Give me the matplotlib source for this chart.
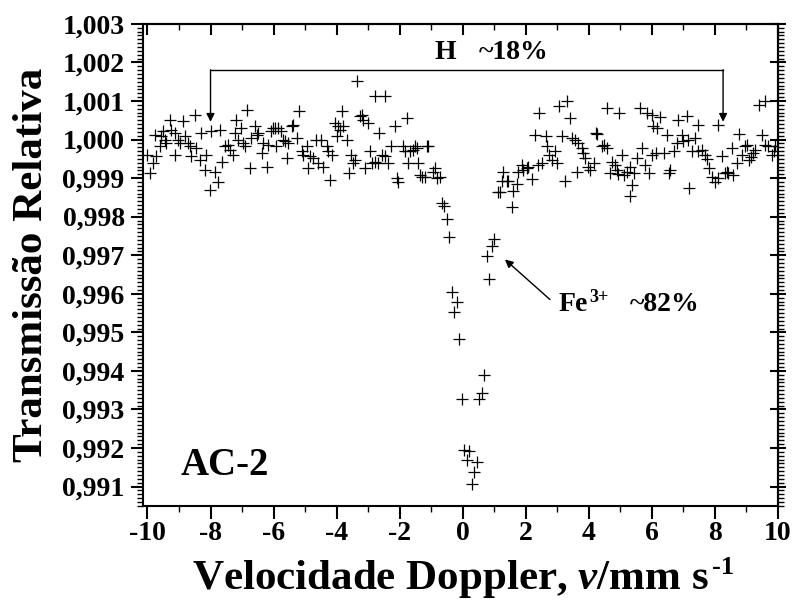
import matplotlib
matplotlib.use("Agg")
import matplotlib.pyplot as plt
from matplotlib.ticker import MultipleLocator, FuncFormatter

plt.rcParams['font.family'] = ['Liberation Serif', 'DejaVu Serif']
plt.rcParams['font.weight'] = 'bold'
plt.rcParams['mathtext.fontset'] = 'custom'
plt.rcParams['mathtext.rm'] = 'Liberation Serif:bold'
plt.rcParams['mathtext.bf'] = 'Liberation Serif:bold'
plt.rcParams['mathtext.it'] = 'Liberation Serif:bold:italic'
plt.rcParams['mathtext.bfit'] = 'Liberation Serif:bold:italic'
plt.rcParams['mathtext.default'] = 'bf'

# ---- data: Doppler velocity (mm/s) and relative transmission ----
velocity = [
    -10.03, -9.93, -9.82, -9.77, -9.72, -9.61, -9.56, -9.50, -9.45, -9.40,
    -9.29, -9.24, -9.13, -9.13, -9.03, -8.97, -8.87, -8.82, -8.71, -8.66,
    -8.61, -8.50, -8.45, -8.34, -8.29, -8.18, -8.13, -8.02, -7.97, -7.86,
    -7.76, -7.71, -7.65, -7.55, -7.44, -7.39, -7.28, -7.23, -7.18, -7.12,
    -7.02, -6.96, -6.91, -6.84, -6.75, -6.70, -6.60, -6.54, -6.49, -6.38,
    -6.33, -6.22, -6.17, -6.07, -6.01, -5.96, -5.91, -5.85, -5.75, -5.70,
    -5.64, -5.57, -5.54, -5.43, -5.38, -5.27, -5.19, -5.11, -5.06, -4.95,
    -4.90, -4.85, -4.74, -4.64, -4.58, -4.48, -4.43, -4.32, -4.27, -4.21,
    -4.16, -4.06, -4.00, -3.95, -3.90, -3.84, -3.79, -3.68, -3.60, -3.53,
    -3.47, -3.42, -3.35, -3.26, -3.21, -3.16, -3.10, -3.00, -2.94, -2.89,
    -2.79, -2.79, -2.68, -2.65, -2.57, -2.47, -2.47, -2.36, -2.26, -2.15,
    -2.10, -2.05, -1.89, -1.83, -1.78, -1.73, -1.67, -1.59, -1.52, -1.46,
    -1.41, -1.36, -1.30, -1.20, -1.14, -1.09, -0.93, -0.88, -0.83, -0.72,
    -0.668, -0.594, -0.510, -0.425, -0.351, -0.266, -0.171, -0.107, -0.033, 0.051,
    0.125, 0.210, 0.284, 0.369, 0.443, 0.527, 0.623, 0.686, 0.760, 0.845,
    0.919, 1.004,
    1.13, 1.18, 1.553, 1.289, 1.236, 1.394, 1.447, 1.606, 1.712, 1.765,
    1.87, 1.92, 2.03, 2.08, 2.19, 2.29, 2.43, 2.40, 2.51, 2.64,
    2.69, 2.75, 2.82, 2.93, 2.98, 3.04, 3.30, 3.41, 3.14, 3.25,
    3.46, 3.56, 3.67, 3.62, 3.78, 3.83, 3.88, 3.99, 4.04, 4.15,
    4.23, 4.27, 4.41, 4.48, 4.57, 4.57, 4.97, 4.73, 4.83, 4.68,
    4.89, 4.94, 5.05, 5.12, 5.20, 5.31, 5.36, 5.31, 5.42, 5.52,
    5.63, 5.84, 6.00, 5.68, 5.79, 5.92, 6.05, 6.16, 6.00, 6.14,
    6.26, 6.47, 6.37, 6.53, 6.58, 6.69, 6.79, 6.84, 6.95, 7.00,
    7.13, 7.16, 7.19, 7.27, 7.37, 7.45, 7.48, 7.59, 7.69, 7.74,
    7.80, 7.90, 8.01, 8.11, 8.11, 8.22, 8.33, 8.38, 8.43, 8.54,
    8.59, 8.70, 8.78, 8.85, 8.96, 9.03, 9.07, 9.14, 9.22, 9.28,
    9.40, 9.49, 9.60, 9.60, 9.70, 9.81, 9.86, 9.91,
]
transmission = [
    0.99961, 0.99913, 0.99939, 1.00012, 0.99956, 0.99982, 1.00008, 1.00021, 0.99999, 0.99991,
    1.00051, 1.00025, 1.00017, 0.99961, 0.99999, 0.99991, 1.00047, 1.00008, 0.99991, 0.99982,
    0.99956, 1.00064, 0.99978, 0.99948, 1.00017, 0.99922, 0.99961, 0.99870, 1.00021, 0.99917,
    0.99889, 1.00025, 0.99943, 0.99982, 0.99987, 0.99974, 0.99961, 1.00017, 1.00051, 0.99999,
    1.00030, 0.99991, 0.99982, 1.00077, 0.99926, 1.00004, 1.00034, 1.00012, 1.00017, 0.99965,
    0.99991, 0.99930, 0.99987, 1.00021, 1.00030, 1.00030, 0.99982, 1.00030, 1.00021, 0.99999,
    0.99995, 0.99952, 0.99991, 1.00034, 1.00038, 1.00004, 1.00075, 0.99969, 0.99961, 0.99982,
    0.99926, 0.99956, 0.99952, 0.99999, 0.99939, 0.99999, 0.99930, 0.99982, 0.99969, 0.99896,
    0.99961, 1.00043, 1.00008, 1.00034, 1.00025, 1.00075, 1.00034, 0.99999, 0.99913, 0.99961,
    0.99939, 0.99948, 1.00152, 1.00060, 1.00064, 1.00051, 0.99926, 1.00043, 0.99969, 0.99939,
    0.99941, 1.00112, 0.99939, 1.00017, 0.99961, 1.00113, 0.99956, 0.99939, 0.99982, 1.00034,
    0.99900, 0.99891, 0.99982, 0.99969, 1.00056, 0.99939, 0.99969, 0.99974, 0.99982, 0.99978,
    0.99939, 0.99909, 0.99904, 0.99904, 0.99982, 0.99982, 0.99917, 0.99926, 0.99900, 0.99904,
    0.998355, 0.998285, 0.99795, 0.997474, 0.99605, 0.99552, 0.99579, 0.99483, 0.99328, 0.99196,
    0.99168, 0.99192, 0.99106, 0.99139, 0.99164, 0.99328, 0.99343, 0.99389, 0.99697, 0.99639,
    0.99725, 0.99742,
    0.99863, 0.99863, 0.99825, 0.99917, 0.99892, 0.99892, 0.99892, 0.99866, 0.99885, 0.99917,
    0.99934, 0.99922, 0.99926, 0.99930, 0.99898, 1.00012, 1.00069, 0.99934, 0.99939, 1.00009,
    0.99982, 0.99961, 0.99948, 0.99969, 0.99939, 1.00086, 1.00099, 1.00056, 1.00008, 0.99892,
    1.00004, 1.00000, 0.99991, 0.99915, 0.99978, 0.99965, 0.99952, 0.99930, 0.99922, 0.99939,
    1.00018, 1.00015, 0.99982, 0.99987, 0.99978, 1.00081, 1.00070, 0.99943, 0.99934, 0.99913,
    0.99920, 0.99911, 0.99961, 0.99909, 0.99917, 0.99930, 0.99883, 0.99853, 0.99913, 0.99952,
    1.00081, 1.00068, 1.00064, 0.99978, 0.99934, 0.99913, 1.00034, 1.00030, 0.99961, 0.99965,
    1.00058, 1.00012, 0.99965, 0.99913, 0.99922, 0.99969, 0.99991, 1.00051, 1.00012, 0.99995,
    1.00060, 0.99999, 0.99874, 0.99969, 1.00004, 0.99969, 1.00038, 0.99974, 0.99961, 0.99950,
    0.99926, 0.99904, 0.99891, 1.00038, 0.99900, 0.99956, 0.99913, 0.99917, 0.99913, 0.99978,
    0.99909, 0.99939, 1.00014, 0.99961, 0.99982, 0.99987, 0.99948, 0.99954, 0.99965, 0.99974,
    1.00090, 1.00012, 1.00099, 0.99987, 0.99982, 0.99961, 0.99970, 0.99982,
]

x_ticks = [-10, -8, -6, -4, -2, 0, 2, 4, 6, 8, 10]
y_ticks = [0.991, 0.992, 0.993, 0.994, 0.995, 0.996, 0.997, 0.998, 0.999, 1.000, 1.001, 1.002, 1.003]

sample_label = "AC-2"
doublet_pct = "~82%"

fig = plt.figure(figsize=(7.93, 6.11), dpi=100)
ax = fig.add_axes([0.180, 0.172, 0.801, 0.789])

ax.plot(velocity, transmission, linestyle='none', marker='+', color='black',
        markersize=8, markeredgewidth=0.9)

ax.set_xlim(-10.15, 10.0)
ax.set_ylim(0.9905, 1.003)
ax.set_xticks(x_ticks)
ax.set_yticks(y_ticks)
ax.xaxis.set_minor_locator(MultipleLocator(1))
ax.yaxis.set_minor_locator(MultipleLocator(0.0001))
ax.yaxis.set_major_formatter(FuncFormatter(lambda v, p: f"{v:.3f}".replace('.', ',')))
ax.xaxis.set_major_formatter(FuncFormatter(lambda v, p: f"{v:.0f}".replace('\u2212', '-')))

ax.tick_params(axis='both', which='major', direction='out', length=9, width=1.5,
               labelsize=20, top=False, right=False)
ax.tick_params(axis='both', which='minor', direction='out', length=4.5, width=1.0,
               top=False, right=False)
for lab in ax.get_xticklabels() + ax.get_yticklabels():
    lab.set_fontweight('bold')
ax.tick_params(axis='x', which='major', pad=2)
ax.tick_params(axis='y', which='major', pad=4)

for s in ax.spines.values():
    s.set_linewidth(1.5)

top = ax.secondary_xaxis('top')
top.set_xticks(x_ticks)
top.xaxis.set_minor_locator(MultipleLocator(1))
top.tick_params(which='major', direction='in', length=8, width=1.5, labeltop=False)
top.tick_params(which='minor', direction='in', length=4.5, width=1.0)
top.spines['top'].set_linewidth(1.5)

right = ax.secondary_yaxis('right')
right.set_yticks(y_ticks)
right.yaxis.set_minor_locator(MultipleLocator(0.0001))
right.tick_params(which='major', direction='inout', length=12, width=1.5, labelright=False)
right.tick_params(which='minor', direction='out', length=4.5, width=1.0)
right.spines['right'].set_linewidth(1.5)

xlab = ax.set_xlabel("Velocidade Doppler, $\\mathbfit{v}$/mm s", fontsize=31,
                     fontweight='bold')
ax.xaxis.set_label_coords(0.485, -0.108)
ax.set_ylabel("Transmissão Relativa", fontsize=31, fontweight='bold', labelpad=8)

# hyperfine bracket
yb, yt = 1.00181, 1.00046
xl, xr = -8.0, 8.26
ax.plot([xl, xr], [yb, yb], color='black', lw=1.0)
for xx in (xl, xr):
    ax.annotate('', xy=(xx, yt), xytext=(xx, yb),
                arrowprops=dict(arrowstyle='-|>', color='black', lw=1.0,
                                shrinkA=0, shrinkB=0, mutation_scale=12))
ax.text(-0.55, 1.00225, "H", ha='center', va='center', fontsize=20, fontweight='bold')
ax.text(0.5, 1.00225, "~18%", ha='left', va='center', fontsize=20, fontweight='bold')

# Fe3+ doublet arrow
ax.annotate('', xy=(1.34, 0.99689), xytext=(2.77, 0.99585),
            arrowprops=dict(arrowstyle='-|>', color='black', lw=1.0,
                            shrinkA=0, shrinkB=0, mutation_scale=12))
fe = ax.text(3.05, 0.99572, "Fe", ha='left', va='center', fontsize=20,
             fontweight='bold')
ax.text(5.3, 0.99572, doublet_pct, ha='left', va='center', fontsize=20,
        fontweight='bold')

ax.text(-8.95, 0.99155, sample_label, ha='left', va='center', fontsize=28,
        fontweight='bold')

# superscripts placed next to their base texts
fig.canvas.draw()
W, H = fig.bbox.width, fig.bbox.height
bb = xlab.get_window_extent()
fig.text((bb.x1 + 3) / W, (bb.y1 + 2) / H, "-1",
         ha='left', va='top', fontsize=19, fontweight='bold')
bf = fe.get_window_extent()
fig.text((bf.x1 + 1) / W, (bf.y1 + 3) / H, "3+",
         ha='left', va='top', fontsize=13, fontweight='bold')

fig.savefig("out.png", dpi=100)
